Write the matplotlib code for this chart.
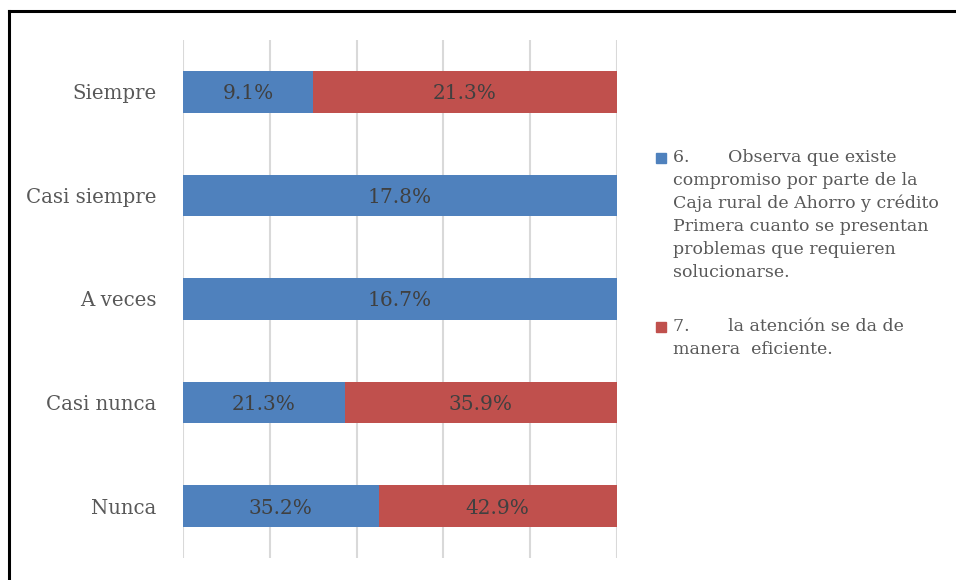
import matplotlib
matplotlib.use('Agg')
import matplotlib.pyplot as plt
from matplotlib.lines import Line2D
from matplotlib.patches import Rectangle
import numpy as np

plt.rcParams['font.family'] = ['DejaVu Serif']

categories = ['Siempre', 'Casi siempre', 'A veces', 'Casi nunca', 'Nunca']
serie_6 = [9.1, 17.8, 16.7, 21.3, 35.2]
serie_7 = [21.3, 0.0, 0.0, 35.9, 42.9]
labels = ['6.       Observa que existe\ncompromiso por parte de la\nCaja rural de Ahorro y crédito\n'
          'Primera cuanto se presentan\nproblemas que requieren\nsolucionarse.',
          '7.       la atención se da de\nmanera  eficiente.']
colors = ['#4F81BD', '#C0504D']

s6 = np.array(serie_6)
s7 = np.array(serie_7)
total = s6 + s7
w6 = s6 / total * 100
w7 = s7 / total * 100

W, H = 956, 580
fig = plt.figure(figsize=(W / 100, H / 100), dpi=100)
ax = fig.add_axes([0.1914, 0.038, 0.454, 0.893])

y = np.arange(len(categories))
ax.barh(y, w6, height=0.4, color=colors[0], zorder=3)
ax.barh(y, w7, left=w6, height=0.4, color=colors[1], zorder=3)

for i in range(len(categories)):
    ax.text(w6[i] / 2, y[i], f'{serie_6[i]:.1f}%', ha='center', va='center_baseline',
            fontsize=14.5, color='#404040', zorder=4)
    if serie_7[i] > 0:
        ax.text(w6[i] + w7[i] / 2, y[i], f'{serie_7[i]:.1f}%', ha='center',
                va='center_baseline', fontsize=14.5, color='#404040', zorder=4)

ax.set_xlim(0, 100)
ax.set_ylim(4.5, -0.5)
ax.set_xticks([0, 20, 40, 60, 80, 100])
ax.set_xticklabels([])
ax.set_yticks(y)
ax.set_yticklabels(categories, fontsize=14.2, color='#595959')
ax.tick_params(axis='both', length=0)
ax.tick_params(axis='y', pad=19)
ax.xaxis.grid(True, color='#D9D9D9', linewidth=1.5, zorder=0)
for sp in ax.spines.values():
    sp.set_visible(False)

# legend drawn by hand so the marker sits on the first line of each entry
legend_tops = [149, 318]
for lab, col, top in zip(labels, colors, legend_tops):
    fig.text(673 / W, 1 - top / H, lab, ha='left', va='top', fontsize=12.5,
             color='#595959', linespacing=1.45)
    fig.patches.append(Rectangle((656 / W, 1 - (top + 14) / H), 10 / W, 10 / H,
                                 transform=fig.transFigure, color=col))

# frame around the chart (top and left edges visible)
fig.add_artist(Line2D([0.0095, 1.0], [0.981, 0.981], color='black', linewidth=2.2,
                      transform=fig.transFigure))
fig.add_artist(Line2D([0.0095, 0.0095], [0.0, 0.981], color='black', linewidth=2.2,
                      transform=fig.transFigure))

fig.savefig('out.png', dpi=100)
